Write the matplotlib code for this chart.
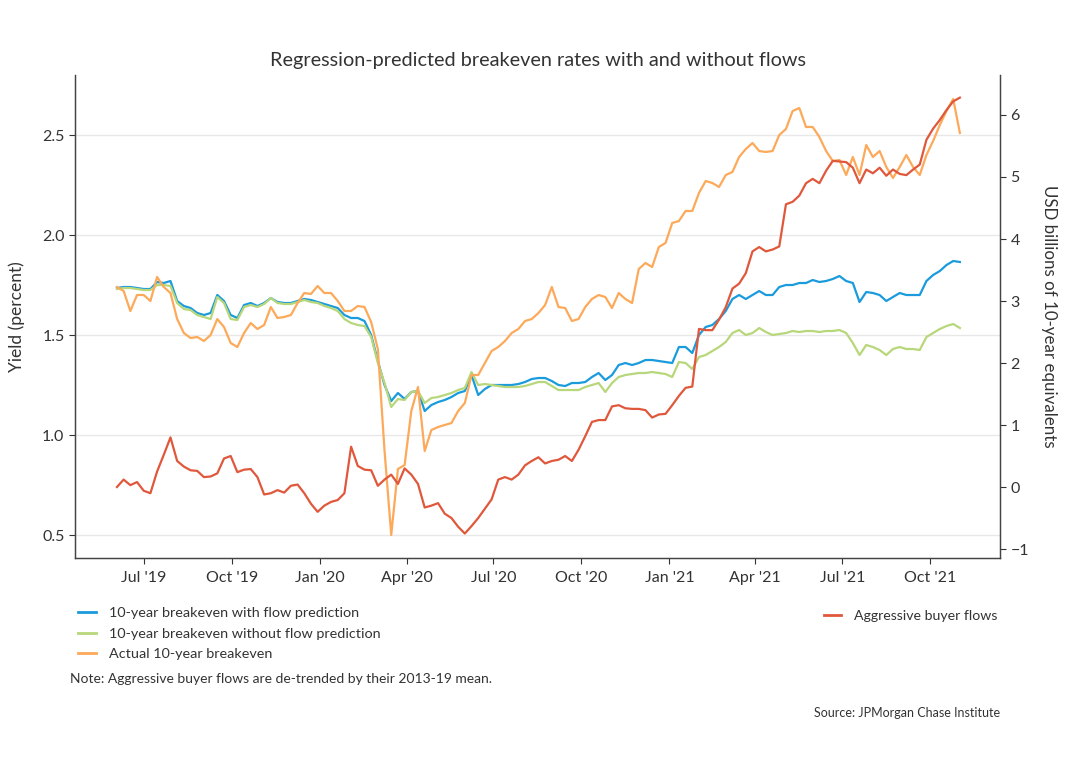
import numpy as np
import pandas as pd
import matplotlib
matplotlib.use("Agg")
import matplotlib.pyplot as plt
import matplotlib.dates as mdates
from matplotlib.lines import Line2D

plt.rcParams['font.family'] = ['Lato', 'DejaVu Sans']

# weekly observations, Jun 2019 - Nov 2021
dates = pd.date_range("2019-06-03", periods=127, freq="7D")

with_flow = [
    1.735, 1.74, 1.74, 1.735, 1.73, 1.73, 1.765, 1.76, 1.77, 1.67,
    1.645, 1.635, 1.61, 1.60, 1.61, 1.70, 1.67, 1.60, 1.585, 1.65,
    1.66, 1.645, 1.66, 1.685, 1.665, 1.66, 1.66, 1.67, 1.68, 1.675,
    1.665, 1.655, 1.645, 1.635, 1.60, 1.585, 1.585, 1.57, 1.50, 1.37,
    1.25, 1.17, 1.21, 1.18, 1.215, 1.22, 1.12, 1.15, 1.165, 1.175,
    1.19, 1.21, 1.22, 1.30, 1.20, 1.23, 1.25, 1.25, 1.25, 1.25,
    1.255, 1.265, 1.28, 1.285, 1.285, 1.27, 1.25, 1.245, 1.26, 1.26,
    1.265, 1.29, 1.31, 1.275, 1.30, 1.35, 1.36, 1.35, 1.36, 1.375,
    1.375, 1.37, 1.365, 1.36, 1.44, 1.44, 1.41, 1.50, 1.54, 1.55,
    1.58, 1.62, 1.68, 1.70, 1.68, 1.70, 1.72, 1.70, 1.70, 1.74,
    1.75, 1.75, 1.76, 1.76, 1.775, 1.765, 1.77, 1.78, 1.795, 1.77,
    1.76, 1.665, 1.715, 1.71, 1.70, 1.67, 1.69, 1.71, 1.70, 1.70,
    1.70, 1.77, 1.80, 1.82, 1.85, 1.87, 1.865,
]

without_flow = [
    1.73, 1.735, 1.735, 1.73, 1.725, 1.725, 1.75, 1.75, 1.745, 1.66,
    1.63, 1.625, 1.60, 1.59, 1.58, 1.69, 1.66, 1.58, 1.575, 1.64,
    1.65, 1.64, 1.655, 1.685, 1.66, 1.655, 1.655, 1.665, 1.675, 1.665,
    1.66, 1.645, 1.635, 1.62, 1.58, 1.56, 1.55, 1.545, 1.49, 1.36,
    1.26, 1.14, 1.18, 1.175, 1.215, 1.22, 1.16, 1.185, 1.19, 1.20,
    1.21, 1.225, 1.235, 1.315, 1.25, 1.255, 1.25, 1.245, 1.24, 1.24,
    1.24, 1.245, 1.255, 1.265, 1.265, 1.245, 1.225, 1.225, 1.225, 1.225,
    1.24, 1.25, 1.26, 1.215, 1.26, 1.29, 1.30, 1.305, 1.31, 1.31,
    1.315, 1.31, 1.305, 1.29, 1.365, 1.36, 1.33, 1.39, 1.40, 1.42,
    1.44, 1.465, 1.51, 1.525, 1.50, 1.51, 1.535, 1.515, 1.50, 1.505,
    1.51, 1.52, 1.515, 1.52, 1.52, 1.515, 1.52, 1.52, 1.525, 1.51,
    1.46, 1.40, 1.45, 1.44, 1.425, 1.40, 1.43, 1.44, 1.43, 1.43,
    1.425, 1.49, 1.51, 1.53, 1.545, 1.555, 1.535,
]

actual = [
    1.74, 1.72, 1.62, 1.70, 1.70, 1.67, 1.79, 1.74, 1.71, 1.58,
    1.51, 1.485, 1.49, 1.47, 1.50, 1.58, 1.54, 1.46, 1.44, 1.51,
    1.56, 1.53, 1.55, 1.64, 1.585, 1.59, 1.60, 1.66, 1.71, 1.705,
    1.745, 1.71, 1.71, 1.67, 1.62, 1.62, 1.645, 1.64, 1.565, 1.43,
    0.92, 0.50, 0.83, 0.85, 1.12, 1.24, 0.92, 1.025, 1.04, 1.05,
    1.06, 1.12, 1.16, 1.30, 1.30, 1.36, 1.42, 1.44, 1.47, 1.51,
    1.53, 1.57, 1.58, 1.61, 1.65, 1.74, 1.64, 1.635, 1.57, 1.58,
    1.64, 1.68, 1.70, 1.69, 1.635, 1.71, 1.68, 1.66, 1.83, 1.86,
    1.84, 1.94, 1.96, 2.06, 2.07, 2.12, 2.12, 2.21, 2.27, 2.26,
    2.24, 2.30, 2.315, 2.39, 2.43, 2.46, 2.42, 2.415, 2.42, 2.50,
    2.53, 2.62, 2.635, 2.54, 2.54, 2.49, 2.42, 2.37, 2.375, 2.30,
    2.39, 2.30, 2.45, 2.39, 2.42, 2.34, 2.285, 2.34, 2.40, 2.34,
    2.30, 2.40, 2.47, 2.55, 2.62, 2.68, 2.51,
]

buyer_flows = [
    0.0, 0.12, 0.03, 0.08, -0.06, -0.1, 0.25, 0.52, 0.8, 0.42,
    0.33, 0.27, 0.26, 0.16, 0.17, 0.22, 0.46, 0.50, 0.24, 0.28,
    0.29, 0.16, -0.12, -0.1, -0.05, -0.09, 0.02, 0.04, -0.1, -0.27,
    -0.4, -0.3, -0.24, -0.21, -0.1, 0.65, 0.34, 0.28, 0.27, 0.02,
    0.12, 0.2, 0.05, 0.3, 0.2, 0.05, -0.33, -0.3, -0.26, -0.43,
    -0.5, -0.64, -0.75, -0.63, -0.5, -0.35, -0.2, 0.12, 0.16, 0.12,
    0.2, 0.35, 0.42, 0.48, 0.38, 0.42, 0.44, 0.5, 0.42, 0.6,
    0.82, 1.05, 1.08, 1.08, 1.30, 1.32, 1.27, 1.26, 1.26, 1.24,
    1.12, 1.17, 1.18, 1.32, 1.47, 1.60, 1.62, 2.55, 2.53, 2.53,
    2.70, 2.9, 3.2, 3.28, 3.45, 3.80, 3.87, 3.80, 3.83, 3.88,
    4.56, 4.6, 4.7, 4.9, 4.97, 4.9, 5.1, 5.26, 5.25, 5.24,
    5.15, 4.9, 5.12, 5.06, 5.15, 5.02, 5.12, 5.05, 5.03, 5.12,
    5.2, 5.6, 5.78, 5.92, 6.08, 6.22, 6.28,
]

tick_dates = pd.to_datetime([
    "2019-07-01", "2019-10-01", "2020-01-01", "2020-04-01", "2020-07-01",
    "2020-10-01", "2021-01-01", "2021-04-01", "2021-07-01", "2021-10-01",
])
tick_labels = ["Jul '19", "Oct '19", "Jan '20", "Apr '20", "Jul '20",
               "Oct '20", "Jan '21", "Apr '21", "Jul '21", "Oct '21"]

BLUE = "#1a9bdc"
GREEN = "#b8d77a"
ORANGE = "#fda95a"
RED = "#e0583c"
TEXT = "#333333"
SPINE = "#444444"

fig = plt.figure(figsize=(10.7, 7.7), dpi=100)
ax = fig.add_axes([0.070, 0.2753, 0.8646, 0.6273])
ax2 = ax.twinx()

ax.plot(dates, with_flow, color=BLUE, lw=1.6)
ax.plot(dates, without_flow, color=GREEN, lw=1.6)
ax.plot(dates, actual, color=ORANGE, lw=1.6)
ax2.plot(dates, buyer_flows, color=RED, lw=1.6)

ax.set_xlim(pd.Timestamp("2019-04-20"), pd.Timestamp("2021-12-13"))
ax.set_ylim(0.385, 2.8)
ax2.set_ylim(-1.145, 6.645)

ax.set_yticks([0.5, 1.0, 1.5, 2.0, 2.5])
ax.set_yticklabels(["0.5", "1.0", "1.5", "2.0", "2.5"])
ax2.set_yticks([-1, 0, 1, 2, 3, 4, 5, 6])
ax2.set_yticklabels(["\u22121", "0", "1", "2", "3", "4", "5", "6"])
ax.set_xticks(tick_dates)
ax.set_xticklabels(tick_labels)

ax.grid(axis="y", color="#e8e8e8", lw=1)
ax.set_axisbelow(True)

for a in (ax, ax2):
    a.spines["top"].set_visible(False)
    for s in ("left", "right", "bottom"):
        a.spines[s].set_color(SPINE)
        a.spines[s].set_linewidth(0.9)
    a.tick_params(colors=TEXT, labelsize=11.5, length=4, width=0.8)
ax.tick_params(axis="x", pad=5)

ax.set_ylabel("Yield (percent)", fontsize=12.5, color=TEXT, labelpad=12)
ax2.set_ylabel("USD billions of 10-year equivalents", fontsize=12.2,
               color=TEXT, rotation=270, labelpad=20)

fig.text(0.503, 0.921, "Regression-predicted breakeven rates with and without flows",
         ha="center", va="center", fontsize=14.3, color=TEXT)

left_handles = [
    Line2D([], [], color=BLUE, lw=2),
    Line2D([], [], color=GREEN, lw=2),
    Line2D([], [], color=ORANGE, lw=2),
]
left_labels = ["10-year breakeven with flow prediction",
               "10-year breakeven without flow prediction",
               "Actual 10-year breakeven"]
leg1 = fig.legend(left_handles, left_labels, loc="upper left",
                  bbox_to_anchor=(0.061, 0.229), frameon=False, fontsize=10.4,
                  handlelength=1.2, handletextpad=0.9, labelspacing=0.6,
                  labelcolor=TEXT)
leg2 = fig.legend([Line2D([], [], color=RED, lw=2)], ["Aggressive buyer flows"],
                  loc="upper right", bbox_to_anchor=(0.944, 0.225), frameon=False,
                  fontsize=10.2, handlelength=1.2, handletextpad=0.9, labelcolor=TEXT)

fig.text(0.0655, 0.118, "Note: Aggressive buyer flows are de-trended by their 2013-19 mean.",
         ha="left", va="center", fontsize=10, color=TEXT)
fig.text(0.9346, 0.074, "Source: JPMorgan Chase Institute",
         ha="right", va="center", fontsize=9, color=TEXT)

fig.savefig("out.png", dpi=100)
